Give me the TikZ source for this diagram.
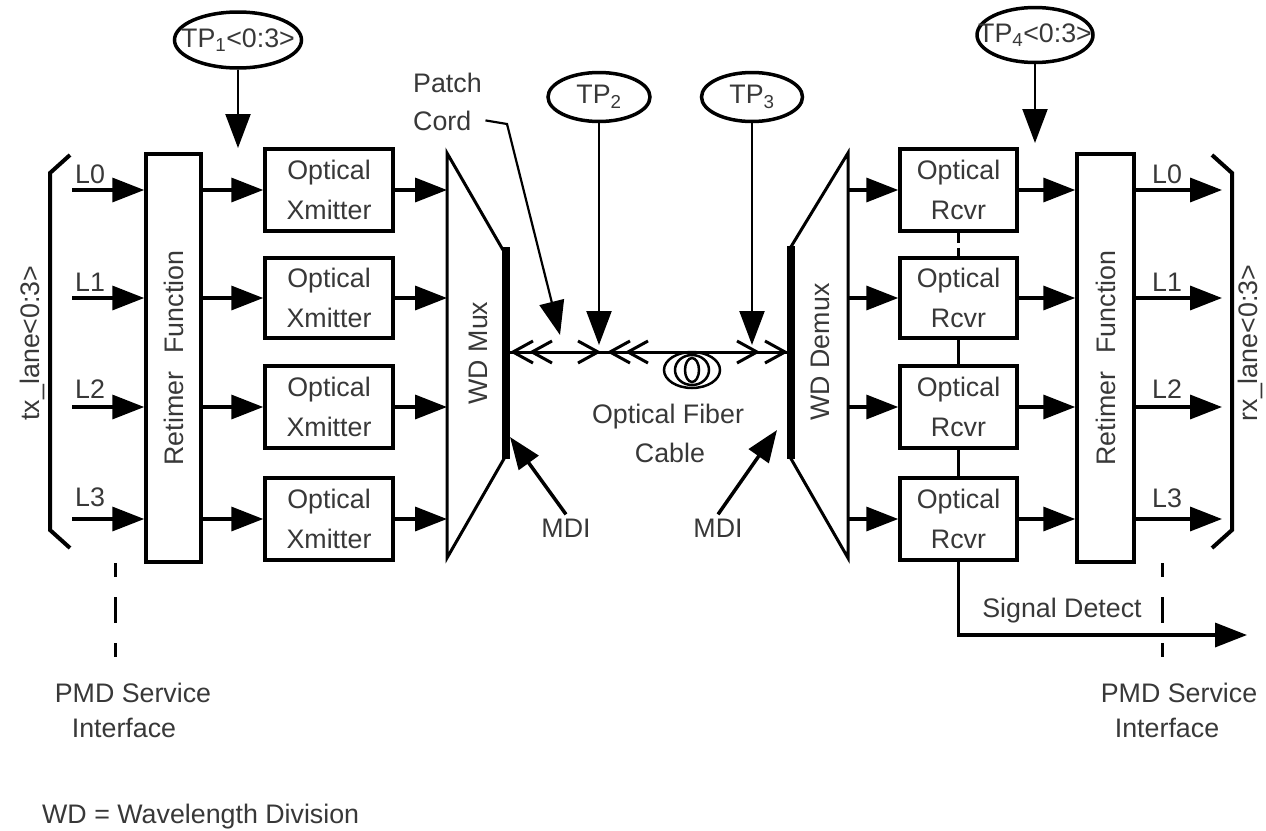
\documentclass[tikz,border=0pt]{standalone}
\usepackage{fontspec}
\setmainfont{Liberation Sans}
\usetikzlibrary{arrows.meta,shapes.geometric}
\tikzset{
  chl/.pic={\draw[line width=3pt] (20,-11) -- (0,0) -- (20,11);},
  chr/.pic={\draw[line width=3pt] (-20,-11) -- (0,0) -- (-20,11);}
}
\begin{document}
\begin{tikzpicture}[x=1pt,y=-1pt,
  every node/.style={text=black!78},
  lbl/.style={font=\fontsize{26.8}{30}\selectfont, inner sep=0pt},
  box/.style={draw=black, line width=3.5pt, inner sep=0pt, align=center, font=\fontsize{26.8}{40}\selectfont},
  arr/.style={draw=black, line width=3.5pt, -{Triangle[length=32pt,width=24pt]}},
  arrthin/.style={draw=black, line width=2.2pt, -{Triangle[length=34pt,width=25pt]}},
  tp/.style={draw=black, ellipse, line width=3.5pt, inner sep=0pt},
  brk/.style={draw=black, line width=4pt},
  dsh/.style={draw=black, line width=3pt, dash pattern=on 14pt off 20pt on 26pt off 20pt on 14pt off 100pt}
]
\useasboundingbox (0,0) rectangle (1266,830);

% brackets
\draw[brk] (70,155) -- (50,173) -- (50,530) -- (70,548);
\draw[brk] (1212,155) -- (1232,173) -- (1232,530) -- (1212,548);
\node[lbl, rotate=90] (txl) at (32,343) {tx\_lane<0:3>};
\node[lbl, rotate=90] (rxl) at (1250,343) {rx\_lane<0:3>};

% retimers
\node[box, minimum width=55pt, minimum height=408pt] (rtL) at (173.5,358) {};
\node[lbl, rotate=90] at (rtL) {Retimer\hspace{0.4em} Function};
\node[box, minimum width=57pt, minimum height=408pt] (rtR) at (1105.5,358) {};
\node[lbl, rotate=90] at (rtR) {Retimer\hspace{0.4em} Function};

% transmitters / receivers
\node[box, minimum width=128pt, minimum height=82pt] (tx0) at (329,190) {Optical\\Xmitter};
\node[box, minimum width=128pt, minimum height=80pt] (tx1) at (329,298) {Optical\\Xmitter};
\node[box, minimum width=128pt, minimum height=82pt] (tx2) at (329,407) {Optical\\Xmitter};
\node[box, minimum width=128pt, minimum height=82pt] (tx3) at (329,519) {Optical\\Xmitter};
\node[box, minimum width=117pt, minimum height=82pt] (rx0) at (958.5,190) {Optical\\Rcvr};
\node[box, minimum width=117pt, minimum height=80pt] (rx1) at (958.5,298) {Optical\\Rcvr};
\node[box, minimum width=117pt, minimum height=82pt] (rx2) at (958.5,407) {Optical\\Rcvr};
\node[box, minimum width=117pt, minimum height=82pt] (rx3) at (958.5,519) {Optical\\Rcvr};
\draw[line width=3.5pt, dash pattern=on 10pt off 5pt] (rx0.south) -- (rx1.north);
\draw[line width=3.5pt] (rx1.south) -- (rx2.north);
\draw[line width=3.5pt] (rx2.south) -- (rx3.north);

% mux / demux
\draw[line width=3pt, line join=miter] (505,457) -- (447,558) -- (447,153) -- (503,250);
\draw[line width=8pt] (506,247) -- (506,459);
\draw[line width=3pt, line join=miter] (789,250) -- (848,153) -- (848,558) -- (790,457);
\draw[line width=8pt] (791,246) -- (791,459);
\node[lbl, rotate=90] at (478,353) {WD Mux};
\node[lbl, rotate=90] at (820,352) {WD Demux};
\coordinate (muxL) at (447,0);
\coordinate (dmxR) at (848,0);

% lanes
\coordinate (in0) at (72,190);
\coordinate (in1) at (72,298);
\coordinate (in2) at (72,407);
\coordinate (in3) at (72,519);
\coordinate (out0) at (1222,190);
\coordinate (out1) at (1222,298);
\coordinate (out2) at (1222,407);
\coordinate (out3) at (1222,519);
\foreach \i in {0,...,3} {
  \draw[arr] (in\i) -- (in\i -| rtL.west);
  \draw[arr] (rtL.east |- tx\i) -- (tx\i.west);
  \draw[arr] (tx\i.east) -- (tx\i.east -| muxL);
  \draw[arr] (rx\i.west -| dmxR) -- (rx\i.west);
  \draw[arr] (rx\i.east) -- (rx\i.east -| rtR.west);
  \draw[arr] (rtR.east |- rx\i) -- (out\i);
}
\node[lbl, anchor=base west] at (75,183) {L0};
\node[lbl, anchor=base west] at (75,291) {L1};
\node[lbl, anchor=base west] at (75,398) {L2};
\node[lbl, anchor=base west] at (75,506) {L3};
\node[lbl, anchor=base west] at (1152,183) {L0};
\node[lbl, anchor=base west] at (1152,291) {L1};
\node[lbl, anchor=base west] at (1152,398) {L2};
\node[lbl, anchor=base west] at (1152,507) {L3};

% test points
\node[tp, minimum width=127pt, minimum height=56pt] (tp1) at (238,40) {};
\node[lbl] at (tp1) {TP\textsubscript{1}<0:3>};
\node[tp, minimum width=102pt, minimum height=49pt] (tp2) at (599,97) {};
\node[lbl] at (tp2) {TP\textsubscript{2}};
\node[tp, minimum width=101pt, minimum height=49pt] (tp3) at (752,97) {};
\node[lbl] at (tp3) {TP\textsubscript{3}};
\node[tp, minimum width=116pt, minimum height=55pt] (tp4) at (1035,35) {};
\node[lbl] at (tp4) {TP\textsubscript{4}<0:3>};
\coordinate (tp1t) at (237,148);
\coordinate (tp2t) at (600,345);
\coordinate (tp3t) at (757,345);
\coordinate (tp4t) at (1037,143);
\draw[arrthin] (tp1.south) -- (tp1.south |- tp1t);
\draw[arrthin] (tp2.south) -- (tp2.south |- tp2t);
\draw[arrthin] (tp3.south) -- (tp3.south |- tp3t);
\draw[arrthin] (tp4.south) -- (tp4.south |- tp4t);

% fiber
\coordinate (fibL) at (510,352);
\coordinate (fibR) at (787,352);
\draw[line width=3pt] (fibL) -- (fibR);
\pic at (513,352) {chl};
\pic at (532,352) {chl};
\pic at (598,352) {chr};
\pic at (610,352) {chl};
\pic at (628,352) {chl};
\pic at (757,352) {chr};
\pic at (785,352) {chr};
\draw[line width=2.5pt] (692,370) ellipse [x radius=7pt, y radius=12pt];
\draw[line width=2.5pt] (692,370) ellipse [x radius=17pt, y radius=15pt];
\draw[line width=2.5pt] (692,370) ellipse [x radius=28pt, y radius=18pt];
\node[lbl, anchor=base] at (668,423) {Optical Fiber};
\node[lbl, anchor=base] at (670,462) {Cable};

% patch cord
\node[lbl, anchor=base west] (patch) at (413,92) {Patch};
\node[lbl, anchor=base west] (cord) at (413,130) {Cord};
\coordinate (pcA) at (507,124);
\coordinate (pcT) at (560,335);
\draw[arrthin] ([xshift=14pt]cord.east) -- (pcA) -- (pcT);

% MDI
\node[lbl, anchor=base] (mdi1) at (566,537) {MDI};
\node[lbl, anchor=base] (mdi2) at (718,537) {MDI};
\coordinate (mdi1t) at (510,437);
\coordinate (mdi2t) at (777,430);
\draw[arr] ([yshift=4pt]mdi1.north) -- (mdi1t);
\draw[arr] ([yshift=4pt]mdi2.north) -- (mdi2t);

% signal detect
\coordinate (sdE) at (1247,635);
\draw[arr] (rx3.south) |- (sdE);
\node[lbl, anchor=base] at (1062,617) {Signal Detect};

% PMD service interfaces
\draw[dsh] (115,563) -- (115,660);
\draw[dsh] (1162,563) -- (1162,660);
\node[lbl, anchor=base] at (133,702) {PMD Service};
\node[lbl, anchor=base] at (124,737) {Interface};
\node[lbl, anchor=base] at (1179,702) {PMD Service};
\node[lbl, anchor=base] at (1167,737) {Interface};

\node[lbl, anchor=base west] at (42,823) {WD = Wavelength Division};
\end{tikzpicture}
\end{document}
